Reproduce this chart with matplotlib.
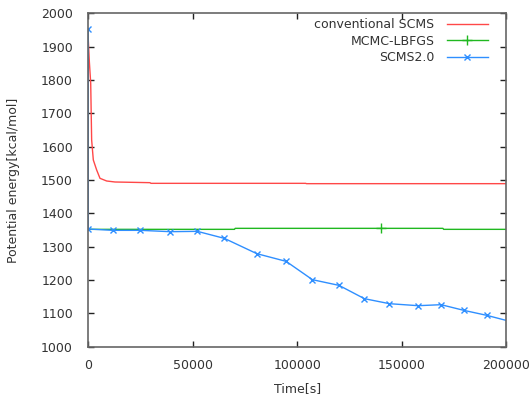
import numpy as np
import matplotlib
matplotlib.use("Agg")
import matplotlib.pyplot as plt

# conventional SCMS
conv_t = [0, 500, 1150, 1600, 2400, 4000, 5600, 8800, 12800, 29500, 30000, 104000, 104500, 200000]
conv_e = [1920, 1855, 1790, 1620, 1560, 1530, 1505, 1497, 1494, 1492, 1490, 1490, 1489, 1489]

# MCMC-LBFGS
mcmc_t = [0, 70000, 70300, 140000, 169800, 170100, 200000]
mcmc_e = [1352, 1352, 1355, 1355, 1355, 1352, 1352]

# SCMS2.0
scms_t = [0, 0, 11800, 24900, 39200, 52200, 65100, 80700, 94700, 107300, 120000,
          132200, 144200, 157900, 168900, 179800, 190800, 200000]
scms_e = [1952, 1353, 1349, 1349, 1345, 1346, 1325, 1279, 1256, 1201, 1184,
          1144, 1129, 1123, 1126, 1109, 1094, 1079]

plt.rcParams['font.family'] = ['DejaVu Sans']
plt.rcParams['font.size'] = 9

fig = plt.figure(figsize=(5.31, 3.97), dpi=100)
ax = fig.add_axes([0.1663, 0.1267, 0.7867, 0.8398])

ax.plot(conv_t, conv_e, color='#ff4848', lw=1.0, label='conventional SCMS')
ax.plot(mcmc_t, mcmc_e, color='#20b820', lw=1.0, marker='+', ms=7,
        markevery=[3], label='MCMC-LBFGS')
ax.plot(scms_t, scms_e, color='#2f8fff', lw=1.0, marker='x', ms=5,
        markevery=list(range(len(scms_t) - 1)), label='SCMS2.0')

ax.set_xlim(0, 200000)
ax.set_ylim(1000, 2000)
ax.set_xticks([0, 50000, 100000, 150000, 200000])
ax.set_yticks(np.arange(1000, 2001, 100))

for s in ax.spines.values():
    s.set_color('#666666')
    s.set_linewidth(1.2)
ax.tick_params(direction='in', length=4, width=1, colors='#222222',
               top=True, right=True, labelcolor='#333333')
ax.tick_params(axis='y', pad=11)
ax.tick_params(axis='x', pad=9)

ax.set_xlabel('Time[s]', color='#333333', labelpad=7)
ax.set_ylabel('Potential energy[kcal/mol]', color='#333333', labelpad=15)

leg = ax.legend(loc='upper right', bbox_to_anchor=(0.969, 1.0), frameon=False,
                markerfirst=False, handlelength=3.3, borderaxespad=0,
                labelspacing=0.28, handletextpad=1.0)
for t in leg.get_texts():
    t.set_color('#333333')

fig.savefig('out.png', dpi=100)
